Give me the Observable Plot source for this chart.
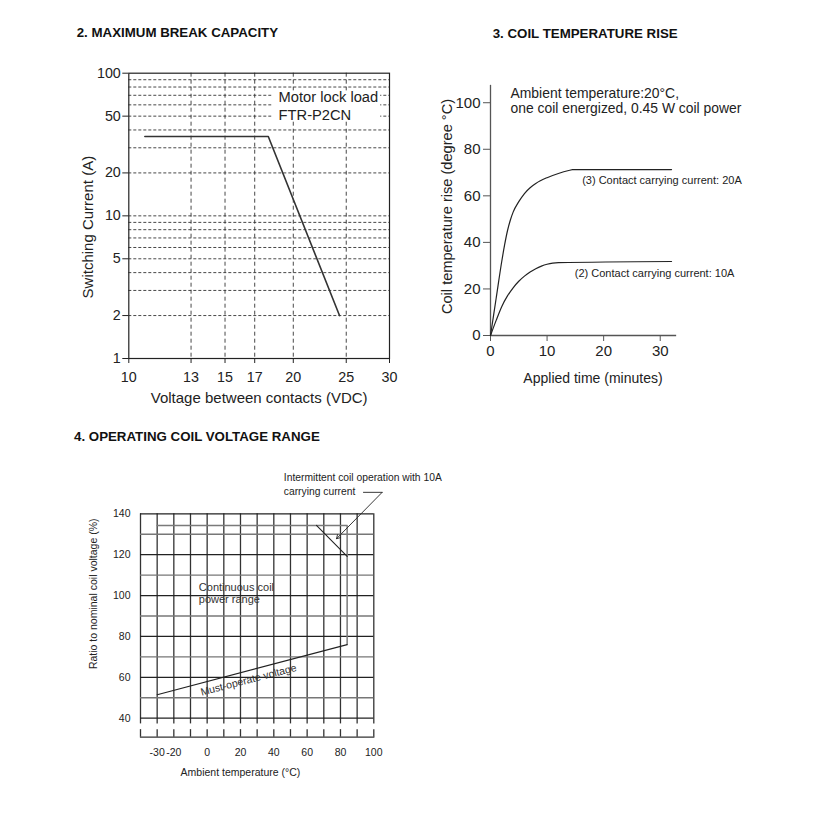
<!DOCTYPE html>
<html>
<head>
<meta charset="utf-8">
<script src="https://cdn.jsdelivr.net/npm/d3@7"></script>
<script src="https://cdn.jsdelivr.net/npm/@observablehq/plot@0.6"></script>
<style>
  body { margin: 0; background: #fff; }
  #wrap { position: relative; width: 817px; height: 813px; overflow: hidden; font-family: Arial, "Liberation Sans", sans-serif; }
  #wrap svg { position: absolute; left: 0; top: 0; }
  .title { position: absolute; font-weight: bold; font-size: 13.3px; line-height: 16px; color: #111; white-space: nowrap; }
</style>
</head>
<body>
<div id="wrap">
  <div class="title" style="left:76.7px;top:24.7px">2. MAXIMUM BREAK CAPACITY</div>
  <div class="title" style="left:492.7px;top:26.3px">3. COIL TEMPERATURE RISE</div>
  <div class="title" style="left:74px;top:429.3px">4. OPERATING COIL VOLTAGE RANGE</div>
</div>
<script>
// ---------- Panel 2: maximum break capacity ----------
const p1XTicks = [10, 13, 15, 17, 20, 25, 30];
const p1YTicks = [1, 2, 5, 10, 20, 50, 100];
const p1GridX = [13, 15, 17, 20, 25];
const p1GridY = [2, 3, 4, 5, 6, 7, 8, 9, 10, 20, 30, 40, 50, 60, 70, 80, 90];
const p1Volt = [10.7, 18, 24.3];
const p1Amp = [36, 36, 2];
const p1NoteText = ["Motor lock load", "FTR-P2CN"];
const p1NoteVolt = [18.8, 18.8];
const p1NoteAmp = [67.9, 50.5];
const p1NoteBoxVolt = [18.3, 28.9];
const p1NoteBoxAmp = [46, 75];

// ---------- Panel 3: coil temperature rise ----------
const p2XTicks = [0, 10, 20, 30];
const p2YTicks = [0, 20, 40, 60, 80, 100];
const p2Time20 = [0, 1, 2, 2.5, 3, 3.5, 4, 5, 6, 7, 8, 10, 12, 14, 14.5, 32];
const p2Rise20 = [0, 16, 32, 39, 45, 49.5, 53, 57.5, 61, 63.5, 65.3, 67.8, 69.6, 71, 71.3, 71.3];
const p2Time10 = [0, 1, 2, 3, 4, 5, 6, 7, 8, 9, 10, 11, 12, 32];
const p2Rise10 = [0, 6.5, 12.5, 17, 20.5, 23.3, 25.5, 27.3, 28.7, 29.8, 30.6, 31.1, 31.3, 31.8];
const p2NoteText = ["Ambient temperature:20°C,", "one coil energized, 0.45 W coil power",
                    "(3) Contact carrying current: 20A", "(2) Contact carrying current: 10A"];
const p2NoteTime = [3.54, 3.54, 16.2, 14.9];
const p2NoteRise = [103.9, 97.4, 66.6, 26.5];
const p2NoteSize = [13.9, 13.9, 11, 11];

// ---------- Panel 4: operating coil voltage range ----------
const p3GridX = [-40, -30, -20, -10, 0, 10, 20, 30, 40, 50, 60, 70, 80, 90, 100];
const p3GridY = [40, 50, 60, 70, 80, 90, 100, 110, 120, 130, 140];
const p3XTicks = [-30, -20, 0, 20, 40, 60, 80, 100];
const p3YTicks = [40, 60, 80, 100, 120, 140];
const p3BoxTemp = [-30, 84, 84];
const p3BoxRatio = [134.3, 134.3, 76];
const p3MustTemp = [-30, 84];
const p3MustRatio = [51.5, 76];
const p3LimitTemp = [65.6, 84];
const p3LimitRatio = [134.3, 119.2];
const p3ArrowFrom = [105, 150.5];
const p3ArrowTo = [77.6, 127.8];
const p3LeaderTemp = [93.8, 105];
const p3LeaderRatio = [150.5, 150.5];
const p3NoteText = ["Continuous coil", "power range", "Intermittent coil operation with 10A", "carrying current"];
const p3NoteTemp = [-5, -5, 46, 46];
const p3NoteRatio = [104.1, 97.9, 157.9, 150.9];
const p3NoteSize = [11, 11, 10.3, 10.3];

const W = 817, H = 813;
const fontFamily = 'Arial, "Liberation Sans", sans-serif';
const zip = (a, b) => a.map((v, i) => ({x: v, y: b[i]}));
const wrap = document.getElementById("wrap");

// Panel 1
const p1Data = zip(p1Volt, p1Amp);
const p1Notes = p1NoteText.map((t, i) => ({t, x: p1NoteVolt[i], y: p1NoteAmp[i]}));
const c1 = Plot.plot({
  width: W, height: H,
  marginLeft: 128.3, marginRight: W - 389, marginTop: 72.7, marginBottom: H - 358,
  style: {fontFamily, background: "transparent", color: "#222", overflow: "visible"},
  x: {type: "log", domain: [10, 30]},
  y: {type: "log", domain: [1, 100]},
  marks: [
    Plot.ruleY(p1GridY, {stroke: "#333", strokeWidth: 0.9, strokeDasharray: "3,2"}),
    Plot.ruleX(p1GridX, {stroke: "#333", strokeWidth: 0.9, strokeDasharray: "4,3"}),
    Plot.rect([{x1: p1NoteBoxVolt[0], x2: p1NoteBoxVolt[1], y1: p1NoteBoxAmp[0], y2: p1NoteBoxAmp[1]}],
      {x1: "x1", x2: "x2", y1: "y1", y2: "y2", fill: "white"}),
    Plot.frame({stroke: "#222", strokeWidth: 1.2}),
    Plot.axisX({ticks: p1XTicks, tickFormat: d => String(d), tickSize: 5, tickPadding: 8, fontSize: 14.3, label: null, stroke: "#222", fill: "#222"}),
    Plot.axisY({ticks: p1YTicks, tickFormat: d => String(d), tickSize: 6, tickPadding: 2, fontSize: 14.3, label: null, stroke: "#222", fill: "#222"}),
    Plot.line(p1Data, {x: "x", y: "y", stroke: "#333", strokeWidth: 1.6}),
    Plot.text(p1Notes, {x: "x", y: "y", text: "t", textAnchor: "start", fontSize: 14.7, fill: "#222"}),
    Plot.text(["Switching Current (A)"], {text: d => d, frameAnchor: "left", textAnchor: "middle", lineAnchor: "middle", dx: -40.3, dy: 11.3, rotate: -90, fontSize: 15, fill: "#222"}),
    Plot.text(["Voltage between contacts (VDC)"], {text: d => d, frameAnchor: "bottom", textAnchor: "middle", lineAnchor: "middle", dy: 40, fontSize: 15, fill: "#222"})
  ]
});
wrap.appendChild(c1);

// Panel 2
const p2Data20 = zip(p2Time20, p2Rise20);
const p2Data10 = zip(p2Time10, p2Rise10);
const p2Notes = p2NoteText.map((t, i) => ({t, x: p2NoteTime[i], y: p2NoteRise[i], s: p2NoteSize[i]}));
const c2 = Plot.plot({
  width: W, height: H,
  marginLeft: 490, marginRight: W - 675, marginTop: 85, marginBottom: H - 335,
  style: {fontFamily, background: "transparent", color: "#222", overflow: "visible"},
  x: {domain: [0, 32.7]},
  y: {domain: [0, 107.4]},
  marks: [
    Plot.frame({anchor: "left", stroke: "#555", strokeWidth: 1.3}),
    Plot.frame({anchor: "bottom", stroke: "#555", strokeWidth: 1.3}),
    Plot.axisX({ticks: p2XTicks, tickSize: 6, tickPadding: 4, fontSize: 15, label: null, stroke: "#555", fill: "#222"}),
    Plot.axisY({ticks: p2YTicks, tickSize: 7, tickPadding: 3, fontSize: 15, label: null, stroke: "#555", fill: "#222"}),
    Plot.line(p2Data20, {x: "x", y: "y", curve: "monotone-x", stroke: "#222", strokeWidth: 1.2}),
    Plot.line(p2Data10, {x: "x", y: "y", curve: "monotone-x", stroke: "#222", strokeWidth: 1.2}),
    Plot.text(p2Notes.filter(d => d.s > 12), {x: "x", y: "y", text: "t", textAnchor: "start", fontSize: 13.9, fill: "#222"}),
    Plot.text(p2Notes.filter(d => d.s <= 12), {x: "x", y: "y", text: "t", textAnchor: "start", fontSize: 11, fill: "#222"}),
    Plot.text(["Coil temperature rise (degree °C)"], {text: d => d, frameAnchor: "left", textAnchor: "middle", lineAnchor: "middle", dx: -43, dy: -4, rotate: -90, fontSize: 14.6, fill: "#222"}),
    Plot.text(["Applied time (minutes)"], {text: d => d, frameAnchor: "bottom", textAnchor: "middle", lineAnchor: "middle", dx: 10, dy: 43, fontSize: 14, fill: "#222"})
  ]
});
wrap.appendChild(c2);

// Panel 3
const p3Notes = p3NoteText.map((t, i) => ({t, x: p3NoteTemp[i], y: p3NoteRatio[i], s: p3NoteSize[i]}));
const c3 = Plot.plot({
  width: W, height: H,
  marginLeft: 140, marginRight: W - 373.3, marginTop: 513.3, marginBottom: H - 736.7,
  style: {fontFamily, background: "transparent", color: "#222", overflow: "visible"},
  x: {domain: [-40, 100]},
  y: {domain: [30.7, 140]},
  marks: [
    Plot.ruleX(p3GridX, {y1: () => 37.2, y2: () => 140, stroke: "#333", strokeWidth: 1.3}),
    Plot.ruleX(p3GridX, {y1: () => 30.7, y2: () => 34.4, stroke: "#333", strokeWidth: 1.3}),
    Plot.ruleY(p3GridY.filter(d => d % 20 === 0), {x1: () => -40, x2: () => 100, stroke: "#222", strokeWidth: 1.2}),
    Plot.ruleY(p3GridY.filter(d => d % 20 !== 0), {x1: () => -40, x2: () => 100, stroke: "#777", strokeWidth: 1.4}),
    Plot.frame({anchor: "bottom", stroke: "#333", strokeWidth: 1.2}),
    Plot.axisX({ticks: p3XTicks, tickFormat: d => String(d), tickSize: 0, tickPadding: 11, fontSize: 10.5, label: null, fill: "#222"}),
    Plot.axisY({ticks: p3YTicks, tickFormat: d => String(d), tickSize: 0, tickPadding: 10, fontSize: 10.5, label: null, fill: "#222"}),
    Plot.line(zip(p3BoxTemp, p3BoxRatio), {x: "x", y: "y", stroke: "#7a7a7a", strokeWidth: 1.5}),
    Plot.line(zip(p3MustTemp, p3MustRatio), {x: "x", y: "y", stroke: "#222", strokeWidth: 1.1}),
    Plot.line(zip(p3LimitTemp, p3LimitRatio), {x: "x", y: "y", stroke: "#222", strokeWidth: 1.1}),
    Plot.line(zip(p3LeaderTemp, p3LeaderRatio), {x: "x", y: "y", stroke: "#222", strokeWidth: 0.9}),
    Plot.arrow([{x1: p3ArrowFrom[0], y1: p3ArrowFrom[1], x2: p3ArrowTo[0], y2: p3ArrowTo[1]}],
      {x1: "x1", y1: "y1", x2: "x2", y2: "y2", stroke: "#222", strokeWidth: 0.9, headLength: 7}),
    Plot.text(p3Notes.filter(d => d.s > 10.5), {x: "x", y: "y", text: "t", textAnchor: "start", fontSize: 11, fill: "#333"}),
    Plot.text(p3Notes.filter(d => d.s <= 10.5), {x: "x", y: "y", text: "t", textAnchor: "start", fontSize: 10.3, fill: "#222"}),
    Plot.text(["Must-operate voltage"], {text: d => d, x: () => 24.8, y: () => 58.7, rotate: -14.7, fontSize: 10.5, fill: "#333"}),
    Plot.text(["Ratio to nominal coil voltage (%)"], {text: d => d, frameAnchor: "left", textAnchor: "middle", lineAnchor: "middle", dx: -46.7, dy: -31.7, rotate: -90, fontSize: 10.5, fill: "#222"}),
    Plot.text(["Ambient temperature (°C)"], {text: d => d, frameAnchor: "bottom", textAnchor: "middle", lineAnchor: "middle", dx: -16.7, dy: 35, fontSize: 10.5, fill: "#222"})
  ]
});
wrap.appendChild(c3);
</script>
</body>
</html>
